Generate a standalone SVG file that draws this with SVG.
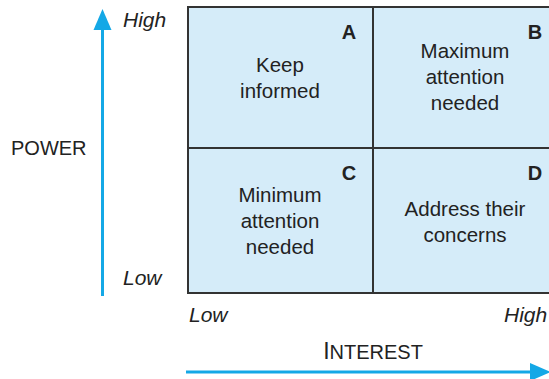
<svg xmlns="http://www.w3.org/2000/svg" width="549" height="379" viewBox="0 0 549 379">
<style>
.cell{fill:#d5ecf9;stroke:#333;stroke-width:2}
.t{font-family:"Liberation Sans",Arial,sans-serif;font-size:20.5px;fill:#222;text-anchor:middle}
.lt{font-family:"Liberation Sans",Arial,sans-serif;font-size:20px;font-weight:bold;fill:#222;text-anchor:middle}
.ax{font-family:"Liberation Sans",Arial,sans-serif;font-size:21px;font-style:italic;fill:#222}
.lab{font-family:"Liberation Sans",Arial,sans-serif;font-size:20px;fill:#222}
.arr{stroke:#14a8e6;stroke-width:3;fill:none}
</style>
<g id="cellA"><rect class="cell" x="188" y="7" width="185" height="141"/><text class="lt" x="349" y="39">A</text><text class="t" x="280" y="72">Keep</text><text class="t" x="280" y="98">informed</text></g>
<g id="cellB"><rect class="cell" x="373" y="7" width="190" height="141"/><text class="lt" x="535" y="39">B</text><text class="t" x="465" y="58">Maximum</text><text class="t" x="465" y="84">attention</text><text class="t" x="465" y="110">needed</text></g>
<g id="cellC"><rect class="cell" x="188" y="148" width="185" height="145"/><text class="lt" x="349" y="180">C</text><text class="t" x="280" y="202">Minimum</text><text class="t" x="280" y="228">attention</text><text class="t" x="280" y="254">needed</text></g>
<g id="cellD"><rect class="cell" x="373" y="148" width="190" height="145"/><text class="lt" x="535" y="180">D</text><text class="t" x="465" y="216">Address their</text><text class="t" x="465" y="242">concerns</text></g>
<g id="connectors">
<line class="arr" x1="102.5" y1="296" x2="102.5" y2="30"/>
<path d="M102.5,9 L111.5,30 L93.5,30 Z" fill="#14a8e6"/>
<line class="arr" x1="186" y1="372" x2="530" y2="372"/>
<path d="M551,372 L530,363 L530,381 Z" fill="#14a8e6"/>
</g>
<g id="labels">
<text class="ax" x="123" y="27">High</text>
<text class="ax" x="123" y="285">Low</text>
<text class="lab" x="11" y="155">POWER</text>
<text class="ax" x="189" y="322">Low</text>
<text class="ax" x="504" y="322">High</text>
<text class="lab" x="373" y="359" text-anchor="middle"><tspan font-size="23">I</tspan>NTEREST</text>
</g>
</svg>
